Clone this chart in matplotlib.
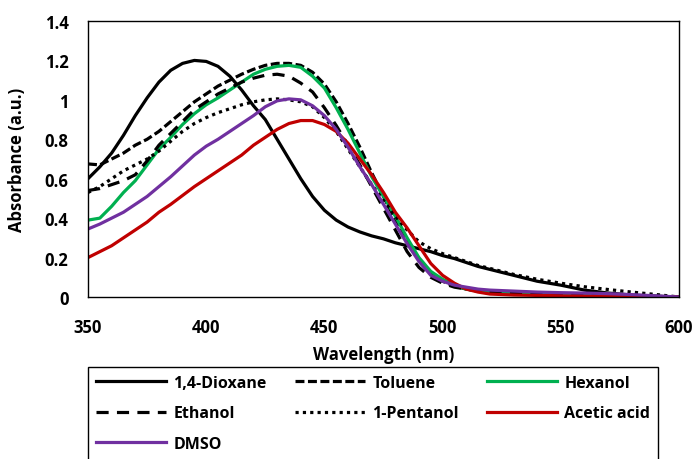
import matplotlib
matplotlib.use("Agg")
import matplotlib.pyplot as plt

plt.rcParams['font.family'] = ['Open Sans', 'DejaVu Sans']
plt.rcParams['font.weight'] = 'bold'

wavelength = [350, 355, 360, 365, 370, 375, 380, 385, 390, 395,
              400, 405, 410, 415, 420, 425, 430, 435, 440, 445,
              450, 455, 460, 465, 470, 475, 480, 485, 490, 495,
              500, 505, 510, 515, 520, 530, 540, 550, 560, 570,
              580, 590, 600]

dioxane = [0.60, 0.66, 0.73, 0.82, 0.92, 1.01, 1.09, 1.15, 1.185, 1.20,
           1.195, 1.17, 1.12, 1.05, 0.97, 0.90, 0.80, 0.70, 0.60, 0.51,
           0.44, 0.39, 0.355, 0.33, 0.31, 0.295, 0.275, 0.26, 0.245, 0.23,
           0.21, 0.195, 0.175, 0.155, 0.14, 0.11, 0.08, 0.06, 0.035, 0.02,
           0.01, 0.004, 0.0]

toluene = [0.675, 0.67, 0.70, 0.73, 0.77, 0.80, 0.84, 0.89, 0.94, 0.99,
           1.03, 1.07, 1.10, 1.13, 1.155, 1.175, 1.185, 1.185, 1.175, 1.14,
           1.08, 0.99, 0.88, 0.76, 0.63, 0.51, 0.39, 0.28, 0.19, 0.12,
           0.08, 0.055, 0.04, 0.032, 0.027, 0.022, 0.018, 0.015, 0.012, 0.009,
           0.006, 0.003, 0.0]

hexanol = [0.39, 0.40, 0.46, 0.53, 0.59, 0.67, 0.75, 0.81, 0.875, 0.93,
           0.975, 1.01, 1.05, 1.09, 1.13, 1.155, 1.17, 1.175, 1.165, 1.12,
           1.06, 0.96, 0.85, 0.73, 0.61, 0.51, 0.41, 0.30, 0.20, 0.13,
           0.09, 0.06, 0.04, 0.03, 0.025, 0.02, 0.015, 0.012, 0.01, 0.008,
           0.005, 0.003, 0.0]

ethanol = [0.54, 0.55, 0.57, 0.59, 0.62, 0.69, 0.77, 0.83, 0.89, 0.95,
           0.99, 1.03, 1.06, 1.09, 1.11, 1.125, 1.13, 1.12, 1.085, 1.04,
           0.96, 0.87, 0.77, 0.67, 0.56, 0.45, 0.34, 0.23, 0.15, 0.10,
           0.07, 0.05, 0.04, 0.03, 0.025, 0.02, 0.015, 0.012, 0.01, 0.008,
           0.005, 0.003, 0.0]

pentanol = [0.53, 0.56, 0.60, 0.64, 0.67, 0.70, 0.74, 0.79, 0.84, 0.88,
            0.91, 0.935, 0.955, 0.975, 0.99, 1.00, 1.005, 1.00, 0.99, 0.965,
            0.91, 0.84, 0.75, 0.66, 0.57, 0.49, 0.41, 0.34, 0.28, 0.245,
            0.22, 0.20, 0.18, 0.16, 0.145, 0.115, 0.09, 0.07, 0.052, 0.038,
            0.025, 0.013, 0.0]

acetic = [0.20, 0.23, 0.26, 0.30, 0.34, 0.38, 0.43, 0.47, 0.515, 0.56,
          0.60, 0.64, 0.68, 0.72, 0.77, 0.81, 0.85, 0.88, 0.895, 0.895,
          0.875, 0.84, 0.78, 0.70, 0.62, 0.53, 0.43, 0.35, 0.26, 0.17,
          0.11, 0.07, 0.04, 0.025, 0.015, 0.01, 0.008, 0.006, 0.005, 0.004,
          0.003, 0.002, 0.0]

dmso = [0.345, 0.37, 0.40, 0.43, 0.47, 0.51, 0.56, 0.61, 0.665, 0.72,
        0.765, 0.80, 0.84, 0.88, 0.92, 0.965, 0.995, 1.005, 1.00, 0.97,
        0.92, 0.85, 0.76, 0.66, 0.57, 0.47, 0.37, 0.27, 0.18, 0.11,
        0.08, 0.06, 0.05, 0.04, 0.035, 0.03, 0.025, 0.022, 0.02, 0.017,
        0.012, 0.006, 0.0]

LW = 2.3

fig = plt.figure(figsize=(6.95, 4.6), dpi=100)
ax = fig.add_axes([88 / 695, 1 - 298 / 460, (679 - 88) / 695, (298 - 22) / 460])

l_diox, = ax.plot(wavelength, dioxane, color='black', lw=LW, label='1,4-Dioxane')
l_tol, = ax.plot(wavelength, toluene, color='black', lw=LW, dashes=(2.8, 1.1), label='Toluene')
l_hex, = ax.plot(wavelength, hexanol, color='#00B050', lw=LW, label='Hexanol')
l_eth, = ax.plot(wavelength, ethanol, color='black', lw=LW, dashes=(3.8, 2.6), label='Ethanol')
l_pen, = ax.plot(wavelength, pentanol, color='black', lw=LW, dashes=(1.0, 1.3), label='1-Pentanol')
l_ace, = ax.plot(wavelength, acetic, color='#C00000', lw=LW, label='Acetic acid')
l_dmso, = ax.plot(wavelength, dmso, color='#7030A0', lw=LW, label='DMSO')

ax.set_xlim(350, 600)
ax.set_ylim(0, 1.4)
ax.set_xticks(range(350, 601, 50))
yt = [0, 0.2, 0.4, 0.6, 0.8, 1.0, 1.2, 1.4]
ax.set_yticks(yt)
ax.set_yticklabels([f"{v:g}" for v in yt])
ax.tick_params(length=0, labelsize=12)
ax.tick_params(axis='x', pad=15)
ax.tick_params(axis='y', pad=14)
for s in ax.spines.values():
    s.set_linewidth(1.0)
    s.set_color('black')

ax.set_xlabel('Wavelength (nm)', fontsize=12, fontweight='bold')
ax.set_ylabel('Absorbance (a.u.)', fontsize=12, fontweight='bold')
ax.xaxis.set_label_coords(0.5, -0.175)
ax.yaxis.set_label_coords(-0.105, 0.5)

# row-major order as in the reference, laid out column by column
handles = [l_diox, l_eth, l_dmso, l_tol, l_pen, l_hex, l_ace]
leg = fig.legend(handles=handles, labels=[h.get_label() for h in handles],
                 loc='upper left', ncol=3,
                 bbox_to_anchor=(88 / 695, 1 - 368 / 460),
                 prop={'size': 11.5, 'weight': 'bold'}, handlelength=4.4,
                 handletextpad=0.45, columnspacing=1.75, labelspacing=0.9,
                 borderpad=0.5, borderaxespad=0, fancybox=False,
                 edgecolor='black', framealpha=1)
leg.get_frame().set_linewidth(1.0)

fig.savefig('out.png', dpi=100)
